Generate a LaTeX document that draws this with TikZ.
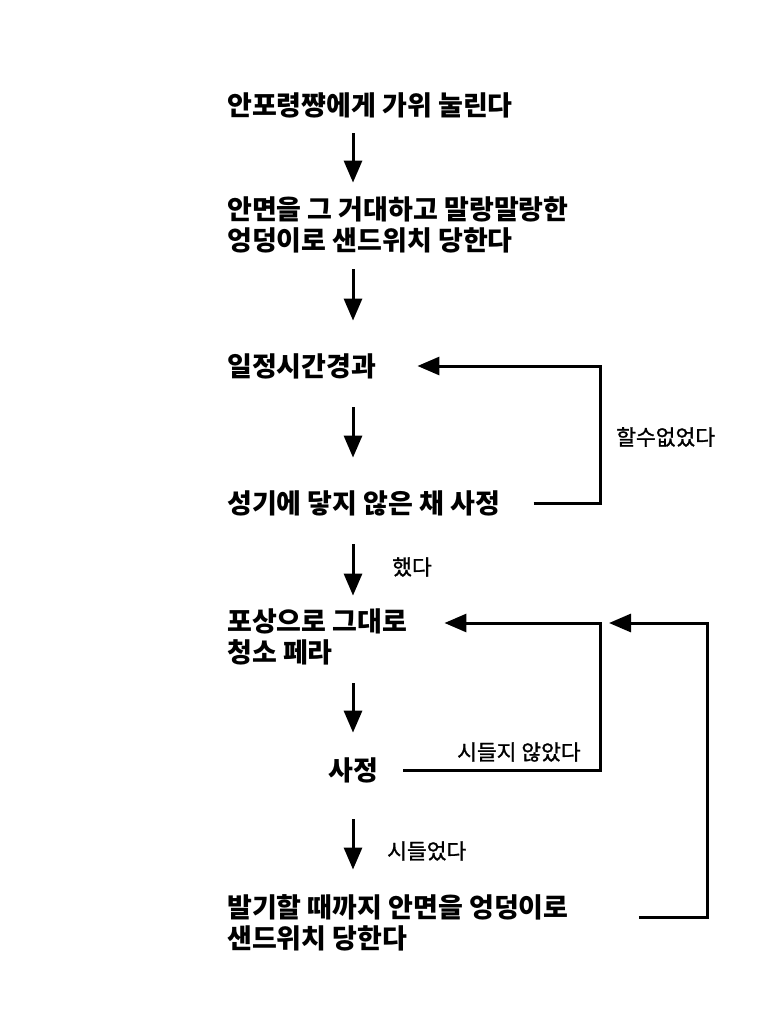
\documentclass[tikz,border=0pt]{standalone}
\usepackage{fontspec}
\setmainfont{Noto Sans CJK KR}
\newfontfamily\condfont{Noto Sans CJK KR}[FakeBold=1.2]
\usetikzlibrary{arrows.meta}

\begin{document}
\begin{tikzpicture}[x=1pt, y=-1pt, line join=miter]
			\useasboundingbox (0,0) rectangle (768,1024);
			\pgfmathsetmacro\xl{227}
			\pgfmathsetmacro\xa{353}
			\tikzset{
				stage/.style={anchor=west, inner sep=0pt, align=left, font=\bfseries\fontsize{27pt}{31pt}\selectfont},
				cond/.style={anchor=west, inner sep=0pt, font=\condfont\fontsize{21.5pt}{25pt}\selectfont},
				flow/.style={line width=3pt, -{Triangle[width=18pt, length=22pt]}}
			}
			% stages, top to bottom
			\node[stage] (n1) at (\xl,105) {안포령쨩에게 가위 눌린다};
			\node[stage] (n2) at (\xl,225) {안면을 그 거대하고 말랑말랑한\\엉덩이로 샌드위치 당한다};
			\node[stage] (n3) at (\xl,366) {일정시간경과};
			\node[stage] (n4) at (\xl,503.5) {성기에 닿지 않은 채 사정};
			\node[stage] (n5) at (\xl,637) {포상으로 그대로\\청소 페라};
			\node[stage, anchor=center] (n6) at (\xa,770.5) {사정};
			\node[stage] (n7) at (\xl,923) {발기할 때까지 안면을 엉덩이로\\샌드위치 당한다};
			\coordinate (spine) at (\xa,0);
			\coordinate (colA) at (600,0);
			\coordinate (colB) at (707,0);
			% main flow
			\draw[flow, shorten <=15.5pt, shorten >=14pt] (n1.south -| spine) -- (n2.north -| spine);
			\draw[flow, shorten <=16pt, shorten >=32.5pt] (n2.south -| spine) -- (n3.north -| spine);
			\draw[flow, shorten <=28.5pt, shorten >=33pt] (n3.south -| spine) -- (n4.north -| spine);
			\draw[flow, shorten <=28pt, shorten >=13pt] (n4.south -| spine) -- (n5.north -| spine);
			\draw[flow, shorten <=18pt, shorten >=25pt] (n5.south -| spine) -- (n6.north);
			\draw[flow, shorten <=36pt, shorten >=25pt] (n6.south) -- (n7.north -| spine);
			% loops back
			\coordinate (backA) at ([shift={(37pt,14pt)}]n5.east);
			\draw[flow] ([xshift=33pt]n4.east) -| (colA |- n3.east) -- ([xshift=41pt]n3.east);
			\draw[flow] ([xshift=25pt]n6.east) -| (colA |- backA) -- (backA);
			\draw[flow] ([shift={(70pt,6pt)}]n7.east) -| (colB |- backA) -- ([xshift=9pt]colA |- backA);
			% conditions
			\node[cond] (c1) at (616,437) {할수없었다};
			\node[cond] (c2) at (392,567) {했다};
			\node[cond] (c3) at (457,752) {시들지 않았다};
			\node[cond] (c4) at (387,851) {시들었다};
		\end{tikzpicture}
\end{document}
